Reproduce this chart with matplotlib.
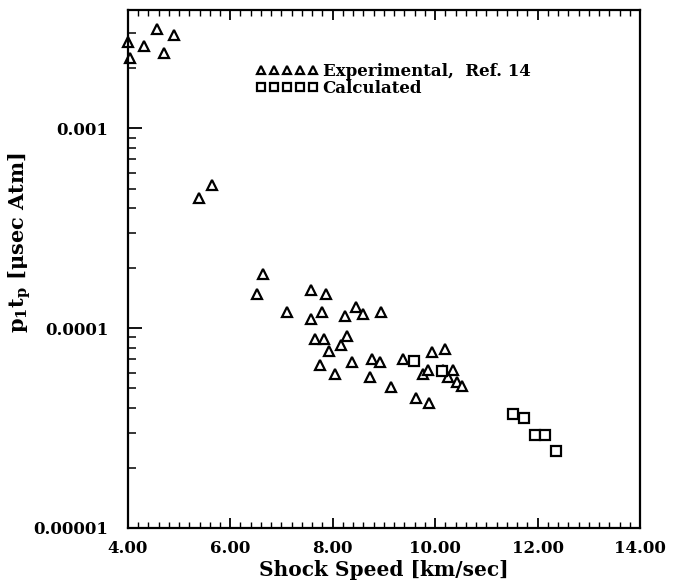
import matplotlib
matplotlib.use("Agg")
import matplotlib.pyplot as plt
from matplotlib.ticker import FixedLocator, LogLocator, MultipleLocator, NullFormatter

# experimental points, Ref. 14
exp_speed = [4.00, 4.04, 4.31, 4.57, 4.70, 4.91, 5.39, 5.64, 6.52, 6.64,
             7.10, 7.57, 7.57, 7.65, 7.75, 7.79, 7.83, 7.87, 7.93, 8.04,
             8.16, 8.24, 8.28, 8.38, 8.45, 8.60, 8.73, 8.77, 8.92, 8.95,
             9.14, 9.37, 9.63, 9.76, 9.86, 9.88, 9.94, 10.16, 10.19, 10.25,
             10.35, 10.43, 10.52]
exp_pt = [2.71e-3, 2.25e-3, 2.58e-3, 3.14e-3, 2.38e-3, 2.93e-3, 4.5e-4, 5.23e-4, 1.48e-4, 1.87e-4,
          1.20e-4, 1.55e-4, 1.11e-4, 8.8e-5, 6.58e-5, 1.20e-4, 8.8e-5, 1.48e-4, 7.68e-5, 5.88e-5,
          8.21e-5, 1.15e-4, 9.1e-5, 6.75e-5, 1.28e-4, 1.18e-4, 5.67e-5, 6.99e-5, 6.75e-5, 1.20e-4,
          5.05e-5, 6.99e-5, 4.50e-5, 5.88e-5, 6.16e-5, 4.20e-5, 7.56e-5, 6.2e-5, 7.83e-5, 5.67e-5,
          6.16e-5, 5.41e-5, 5.16e-5]

# calculated points
calc_speed = [9.59, 10.13, 11.52, 11.73, 11.95, 12.15, 12.36]
calc_pt = [6.83e-5, 6.09e-5, 3.73e-5, 3.54e-5, 2.92e-5, 2.92e-5, 2.43e-5]

y_ticks = [1e-5, 1e-4, 1e-3]
y_ticklabels = ["0.00001", "0.0001", "0.001"]
x_ticks = [4, 6, 8, 10, 12, 14]
x_ticklabels = ["4.00", "6.00", "8.00", "10.00", "12.00", "14.00"]

plt.rcParams["font.family"] = "DejaVu Serif"
plt.rcParams["font.weight"] = "bold"
plt.rcParams["mathtext.fontset"] = "dejavuserif"
plt.rcParams["mathtext.default"] = "bf"

fig = plt.figure(figsize=(6.76, 5.86), dpi=100)
ax = fig.add_axes([0.189, 0.099, 0.758, 0.884])

ax.plot(exp_speed, exp_pt, linestyle="none", marker="^", ms=7.5, mfc="white",
        mec="black", mew=1.6, clip_on=False, label="Experimental,  Ref. 14")
ax.plot(calc_speed, calc_pt, linestyle="none", marker="s", ms=7, mfc="white",
        mec="black", mew=1.6, clip_on=False, label="Calculated")

ax.set_yscale("log")
ax.set_xlim(4, 14)
ax.set_ylim(1e-5, 3.92e-3)

ax.yaxis.set_major_locator(FixedLocator(y_ticks))
ax.set_yticklabels(y_ticklabels)
ax.yaxis.set_minor_locator(LogLocator(base=10, subs=range(2, 10)))
ax.yaxis.set_minor_formatter(NullFormatter())
ax.set_xticks(x_ticks)
ax.set_xticklabels(x_ticklabels)
ax.xaxis.set_minor_locator(MultipleLocator(0.2))

for s in ax.spines.values():
    s.set_linewidth(1.6)

ax.tick_params(axis="both", which="major", direction="in", width=1.3,
               labelsize=12)
ax.tick_params(axis="y", which="major", length=10, left=True, right=False, pad=14)
ax.tick_params(axis="y", which="minor", direction="in", length=6, width=1.1,
               left=True, right=False)
ax.tick_params(axis="x", which="major", length=7, top=True, bottom=True, pad=9)
ax.tick_params(axis="x", which="minor", direction="in", length=4, width=1.0,
               top=True, bottom=True)

ax.set_xlabel("Shock Speed [km/sec]", fontsize=14.5, fontweight="bold", labelpad=2)
ax.set_ylabel(r"p$_1$t$_p$ [$\mu$sec Atm]", fontsize=15, fontweight="bold")
ax.yaxis.set_label_coords(-0.185, 0.55)

ax.legend(loc="upper left", bbox_to_anchor=(0.25, 0.897), frameon=False,
          numpoints=5, markerscale=0.75, handlelength=3.7, handletextpad=0.3,
          labelspacing=0.0, borderpad=0, borderaxespad=0,
          prop={"size": 12, "weight": "bold"})

fig.savefig("out.png", dpi=100)
